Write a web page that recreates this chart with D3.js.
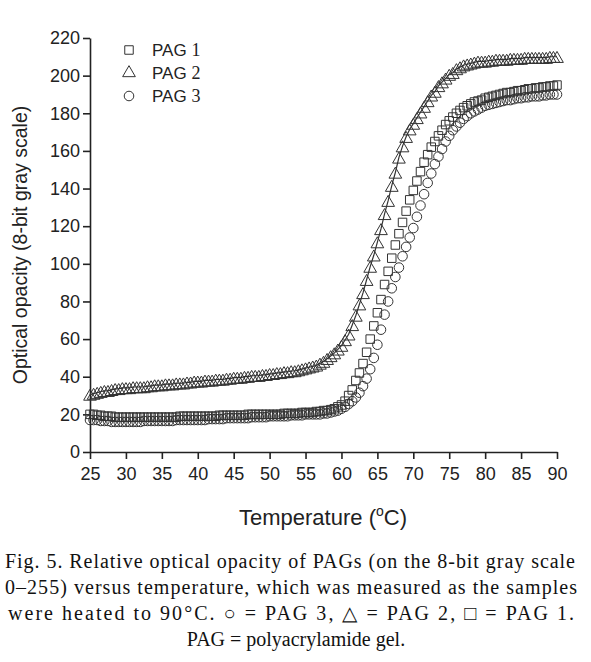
<!DOCTYPE html>
<html><head><meta charset="utf-8">
<script src="https://cdn.jsdelivr.net/npm/d3@7"></script>
<style>body{margin:0;background:#fff}</style>
</head><body><svg id="c" width="591" height="662"></svg>
<script>
const temps = d3.range(25, 90.001, 0.5);
const pag2 = [30,30.5,31,31.5,32,32,32.5,33,33,33.5,33.5,
33.5,34,34,34,34,34.5,34.5,35,35,35,
35.5,35.5,35.5,36,36,36,36.5,36.5,37,37,
37,37.5,37.5,37.5,38,38,38,38.5,38.5,39,
39,39,39.5,39.5,40,40,40,40.5,40.5,41,
41,41.5,41.5,42,42,42.5,42.5,43,43.5,44,
44.5,45,45.5,46.5,47.5,49,50.5,52,54,56,
59,62,67,72,78,84,91,98,104,111,
118,126,133,141,148,156,162,167,171,174,
177,180,183,186,189,191,194,196,198,200,
201,203,204,205,205.5,206,206.5,207,207,207,
207.5,207.5,208,208,208,208,208.5,208.5,208.5,208.5,
209,209,209,209,209,209,209,209.5,209.5,209.5];
const pag1 = [20,20,19.5,19.5,19,19,19,18.5,18.5,18.5,18.5,
18.5,18.5,18.5,18.5,18.5,18.5,18.5,18.5,18.5,18.5,
18.5,18.5,18.5,18.5,19,19,19,19,19,19,
19,19,19,19,19,19.5,19.5,19.5,19.5,19.5,
19.5,19.5,19.5,20,20,20,20,20,20,20,
20,20,20,20.5,20.5,20.5,20.5,20.5,21,21,
21,21,21.5,21.5,22,22,22.5,23,24,25,
27,30,33,38,42,47,53,60,67,74,
81,89,96,103,110,116,122,128,134,139,
144,149,154,158,162,165,168,171,174,176,
178,180,181.5,183,184,185,186,186.5,187,188,
188.5,189,189.5,190,190.5,191,191,191.5,192,192,
192.5,193,193,193.5,193.5,194,194,194.5,194.5,195];
const pag3 = [17,17,17,16.5,16.5,16.5,16,16,16,16,16,
16,16,16,16,16.5,16.5,16.5,16.5,16.5,16.5,
16.5,16.5,16.5,17,17,17,17,17,17,17,
17,17,17.5,17.5,17.5,17.5,17.5,18,18,18,
18,18,18,18,18.5,18.5,18.5,18.5,18.5,19,
19,19,19,19,19,19.5,19.5,19.5,19.5,20,
20,20,20,20,20.5,20.5,21,21.5,22,23,
24,25.5,27,29,31.5,35,39,44,50,57,
65,73,80,87,93,98,104,109,114,119,
125,131,137,143,148,153,157,161,165,168,
171,173,175,177,178.5,180,181,182,183,184,
184.5,185,185.5,186,186.5,187,187,187.5,188,188,
188.5,188.5,189,189,189,189.5,189.5,190,190,190];
const xTicks = [25,30,35,40,45,50,55,60,65,70,75,80,85,90];
const yTicks = [0,20,40,60,80,100,120,140,160,180,200,220];
const legendLabels = ["1","2","3"];

const svg = d3.select("#c");
const x = d3.scaleLinear().domain([25,90]).range([90,557]);
const y = d3.scaleLinear().domain([0,220]).range([452,38]);
const ink = "#222";
const sans = "Liberation Sans, Arial, sans-serif";
const serif = "Liberation Serif, Times New Roman, serif";

const xa = svg.append("g").attr("transform","translate(0,452)")
  .call(d3.axisBottom(x).tickValues(xTicks).tickSize(7).tickSizeOuter(0));
const ya = svg.append("g").attr("transform","translate(90,0)")
  .call(d3.axisLeft(y).tickValues(yTicks).tickSize(7).tickSizeOuter(0));
[xa,ya].forEach(a=>{a.selectAll("path,line").attr("stroke",ink).attr("stroke-width",1.6);
  a.selectAll("text").attr("font-family",sans).attr("font-size",18).attr("fill",ink);});
xa.selectAll("text").attr("dy","1.0em");

const sym = {sq:d3.symbol().type(d3.symbolSquare).size(72),
  tri:d3.symbol().type(d3.symbolTriangle).size(70),
  ci:d3.symbol().type(d3.symbolCircle).size(72)};

function draw(data, s, dy){
  const g = svg.append("g");
  g.selectAll("path").data(data).join("path")
    .attr("d", sym[s]).attr("transform",(d,i)=>`translate(${x(temps[i])},${y(d)+(dy||0)})`)
    .attr("fill","none").attr("stroke","#333").attr("stroke-width",1);
}
svg.append("path").datum(pag2).attr("fill","none").attr("stroke","#333").attr("stroke-width",1.2)
  .attr("d", d3.line().x((d,i)=>x(temps[i])).y(d=>y(d)-1));
draw(pag3,"ci");
draw(pag1,"sq");
draw(pag2,"tri",1);

const ly=[50,73,96], ls=["sq","tri","ci"];
ls.forEach((s,i)=>{
  svg.append("path").attr("d",sym[s]).attr("transform",`translate(129,${ly[i]})`)
    .attr("fill","none").attr("stroke","#333").attr("stroke-width",1);
  const t = svg.append("text").attr("x",152).attr("y",ly[i]+6).attr("font-size",17).attr("fill",ink);
  t.append("tspan").attr("font-family",sans).text("PAG ");
  t.append("tspan").attr("font-family",serif).attr("font-size",18).text(legendLabels[i]);
});

svg.append("text").attr("transform","translate(27,245) rotate(-90)").attr("text-anchor","middle")
  .attr("font-family",sans).attr("font-size",19.5).attr("fill",ink).text("Optical opacity (8-bit gray scale)");
const xl = svg.append("text").attr("x",323).attr("y",525).attr("text-anchor","middle")
  .attr("font-family",sans).attr("font-size",22).attr("fill",ink);
xl.append("tspan").text("Temperature (");
xl.append("tspan").attr("dy",-9).attr("font-size",14).text("o");
xl.append("tspan").attr("dy",9).text("C)");

const cap = ["Fig. 5.  Relative optical opacity of PAGs (on the 8-bit gray scale",
"0–255) versus temperature, which was measured as the samples",
"were heated to 90°C. ○ = PAG 3, △ = PAG 2, □ = PAG 1.",
"PAG = polyacrylamide gel."];
const capX=[5,5,8,296], capLen=[570,572,566,null];
cap.forEach((c,i)=>{
  const t=svg.append("text").attr("x",capX[i]).attr("y",568+i*26)
  .attr("text-anchor",i<3?"start":"middle").attr("font-family",serif).attr("font-size",20)
  .attr("fill","#111").text(c);
  if(capLen[i]) t.attr("textLength",capLen[i]).attr("lengthAdjust","spacing");
});
</script></body></html>
